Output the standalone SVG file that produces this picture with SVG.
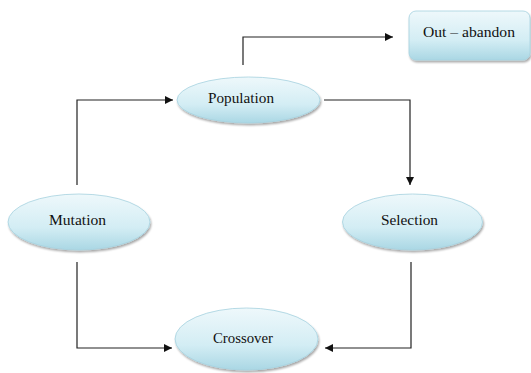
<svg xmlns="http://www.w3.org/2000/svg" width="531" height="373" viewBox="0 0 531 373">
<defs>
<linearGradient id="g" x1="0" y1="0" x2="0" y2="1">
<stop offset="0" stop-color="#eef8fb"/>
<stop offset="0.6" stop-color="#d3edf4"/>
<stop offset="1" stop-color="#aad7e4"/>
</linearGradient>
<filter id="sh" x="-10%" y="-10%" width="130%" height="140%">
<feGaussianBlur in="SourceAlpha" stdDeviation="1.2"/>
<feOffset dx="1" dy="2" result="b"/>
<feComponentTransfer><feFuncA type="linear" slope="0.35"/></feComponentTransfer>
<feMerge><feMergeNode/><feMergeNode in="SourceGraphic"/></feMerge>
</filter>
<marker id="ah" viewBox="0 0 10 10" refX="10" refY="5" markerWidth="8" markerHeight="8" markerUnits="userSpaceOnUse" orient="auto">
<path d="M0,0 L10,5 L0,10 z" fill="#111"/>
</marker>
</defs>
<style>
.n{fill:url(#g);stroke:#a6d2df;stroke-width:0.8;filter:url(#sh)}
.t{font-family:'Liberation Serif','DejaVu Serif',serif;font-size:14.5px;fill:#111;text-anchor:middle}
.c{fill:none;stroke:#222;stroke-width:1.2;marker-end:url(#ah)}
</style>
<rect width="531" height="373" fill="#fff"/>
<g id="connectors">
<path class="c" d="M243,65 V37 H393"/>
<path class="c" d="M324,100 H410 V185"/>
<path class="c" d="M77,185 V100 H173"/>
<path class="c" d="M77,262 V348 H172"/>
<path class="c" d="M411,262 V348 H325"/>
</g>
<g id="out-abandon">
<rect class="n" x="409" y="11" width="121" height="49" rx="7"/>
<text class="t" x="469" y="37" textLength="92" lengthAdjust="spacingAndGlyphs">Out – abandon</text>
</g>
<g id="population">
<ellipse class="n" cx="248.5" cy="100" rx="71.5" ry="23"/>
<text class="t" x="241" y="103" textLength="66" lengthAdjust="spacingAndGlyphs">Population</text>
</g>
<g id="mutation">
<ellipse class="n" cx="79" cy="222" rx="71" ry="28"/>
<text class="t" x="77.5" y="225" textLength="57" lengthAdjust="spacingAndGlyphs">Mutation</text>
</g>
<g id="selection">
<ellipse class="n" cx="412.5" cy="222" rx="70" ry="28"/>
<text class="t" x="409.5" y="225" textLength="57" lengthAdjust="spacingAndGlyphs">Selection</text>
</g>
<g id="crossover">
<ellipse class="n" cx="246.5" cy="339" rx="71.5" ry="31"/>
<text class="t" x="243" y="343" textLength="60" lengthAdjust="spacingAndGlyphs">Crossover</text>
</g>
</svg>
